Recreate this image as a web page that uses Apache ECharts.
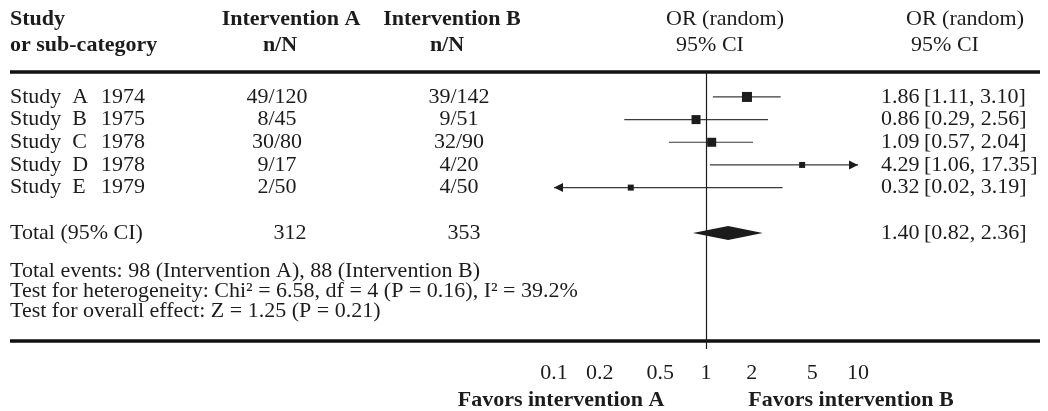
<!DOCTYPE html>
<html><head><meta charset="utf-8">
<script src="https://cdn.jsdelivr.net/npm/echarts@6/dist/echarts.min.js"></script>
<style>html,body{margin:0;padding:0;background:#fff}#c{width:1048px;height:411px}</style>
</head><body><div id="c"></div>
<script>
// ---- data ----
const studies = ['Study  A', 'Study  B', 'Study  C', 'Study  D', 'Study  E'];
const years = ['1974', '1975', '1978', '1978', '1979'];
const groupA = ['49/120', '8/45', '30/80', '9/17', '2/50'];
const groupB = ['39/142', '9/51', '32/90', '4/20', '4/50'];
const orValues = [1.86, 0.86, 1.09, 4.29, 0.32];
const ciLower = [1.11, 0.29, 0.57, 1.06, 0.02];
const ciUpper = [3.10, 2.56, 2.04, 17.35, 3.19];
const totalLabel = 'Total (95% CI)';
const totalA = '312';
const totalB = '353';
const totalOR = 1.40;
const totalLower = 0.82;
const totalUpper = 2.36;
const footerLines = [
  'Total events: 98 (Intervention A), 88 (Intervention B)',
  'Test for heterogeneity: Chi\u00b2 = 6.58, df = 4 (P = 0.16), I\u00b2 = 39.2%',
  'Test for overall effect: Z = 1.25 (P = 0.21)'
];
const tickValues = [0.1, 0.2, 0.5, 1, 2, 5, 10];
const tickLabels = ['0.1', '0.2', '0.5', '1', '2', '5', '10'];
const favorLabels = ['Favors intervention A', 'Favors intervention B'];

// ---- style ----
const ink = '#1c1c1c';
const FONT = '"Liberation Serif", "Times New Roman", serif';
const FS = 22;
const markerSize = [10, 9, 9, 6, 6];
const X_MIN = 0.1, X_MAX = 10;
const totalRow = studies.length + 1;

const chart = echarts.init(document.getElementById('c'), null, {renderer: 'canvas'});

const studyData = orValues.map((v, i) => [v, ciLower[i], ciUpper[i], i]);

function renderStudy(params, api) {
  const est = api.value(0), lo = api.value(1), hi = api.value(2), row = api.value(3);
  const loC = Math.max(lo, X_MIN), hiC = Math.min(hi, X_MAX);
  const p0 = api.coord([loC, row]);
  const p1 = api.coord([hiC, row]);
  const pc = api.coord([est, row]);
  const s = markerSize[params.dataIndex] || 7;
  const y = pc[1];
  const children = [
    {type: 'line', shape: {x1: p0[0], y1: y, x2: p1[0], y2: y}, style: {stroke: '#3a3a3a', lineWidth: 1.2}},
    {type: 'rect', shape: {x: pc[0] - s / 2, y: y - s / 2, width: s, height: s}, style: {fill: ink}}
  ];
  if (lo < X_MIN) {
    children.push({type: 'polygon', shape: {points: [[p0[0], y], [p0[0] + 9, y - 4.5], [p0[0] + 9, y + 4.5]]}, style: {fill: ink}});
  }
  if (hi > X_MAX) {
    children.push({type: 'polygon', shape: {points: [[p1[0], y], [p1[0] - 9, y - 4.5], [p1[0] - 9, y + 4.5]]}, style: {fill: ink}});
  }
  return {type: 'group', children};
}

function renderDiamond(params, api) {
  const est = api.value(0), lo = api.value(1), hi = api.value(2), row = api.value(3);
  const pl = api.coord([lo, row]);
  const pc = api.coord([est, row]);
  const ph = api.coord([hi, row]);
  const h = 7;
  return {type: 'polygon', shape: {points: [[pl[0], pl[1]], [pc[0], pc[1] - h], [ph[0], ph[1]], [pc[0], pc[1] + h]]}, style: {fill: ink}};
}

const option = {
  animation: false,
  backgroundColor: '#fff',
  grid: {left: 554, right: 190, top: 72, height: 277},
  xAxis: {
    type: 'log', logBase: 10, min: X_MIN, max: X_MAX,
    axisLine: {show: false}, axisTick: {show: false}, splitLine: {show: false},
    axisLabel: {
      customValues: tickValues,
      margin: 13,
      color: ink, fontFamily: FONT, fontSize: FS,
      formatter: function (v) {
        let best = 0, bd = Infinity;
        tickValues.forEach((t, i) => { const d = Math.abs(Math.log(t) - Math.log(v)); if (d < bd) { bd = d; best = i; } });
        return tickLabels[best];
      }
    }
  },
  yAxis: {type: 'value', inverse: true, min: -1.1, max: 11.12, show: false},
  series: [
    {
      type: 'custom', name: 'studies', renderItem: renderStudy,
      encode: {x: [0, 1, 2], y: 3}, data: studyData, silent: true, clip: false,
      markLine: {
        symbol: 'none', silent: true, label: {show: false},
        lineStyle: {color: ink, width: 1.2, type: 'solid'},
        data: [{xAxis: 1}]
      }
    },
    {
      type: 'custom', name: 'total', renderItem: renderDiamond,
      encode: {x: [0, 1, 2], y: 3}, data: [[totalOR, totalLower, totalUpper, totalRow]], silent: true, clip: false
    }
  ]
};
chart.setOption(option);

function rowY(i) {
  const v = chart.convertToPixel({yAxisIndex: 0}, i);
  return (typeof v === 'number' && isFinite(v)) ? v : 72 + (i + 1.1) * 22.667;
}
function txt(x, y, s, o) {
  o = o || {};
  const align = o.align || 'left';
  return {
    type: 'text', x: x, y: y, silent: true,
    style: {
      text: s, fill: ink,
      font: (o.bold ? 'bold ' : '') + (o.size || FS) + 'px ' + FONT,
      align: align, textAlign: align, verticalAlign: 'middle', textVerticalAlign: 'middle'
    }
  };
}
function rule(y) {
  return {type: 'line', silent: true, shape: {x1: 10, y1: y, x2: 1040, y2: y}, style: {stroke: '#111', lineWidth: 3.5}};
}

const g = [];
// header
g.push(txt(10, 19, 'Study', {bold: true}));
g.push(txt(10, 45, 'or sub-category', {bold: true}));
g.push(txt(291, 19, 'Intervention A', {bold: true, align: 'center'}));
g.push(txt(280, 45, 'n/N', {bold: true, align: 'center'}));
g.push(txt(452, 19, 'Intervention B', {bold: true, align: 'center'}));
g.push(txt(447, 45, 'n/N', {bold: true, align: 'center'}));
g.push(txt(725, 19, 'OR (random)', {align: 'center'}));
g.push(txt(710, 45, '95% CI', {align: 'center'}));
g.push(txt(965, 19, 'OR (random)', {align: 'center'}));
g.push(txt(945, 45, '95% CI', {align: 'center'}));
g.push(rule(72));
// rows
studies.forEach((s, i) => {
  const y = rowY(i);
  g.push(txt(10, y, s));
  g.push(txt(101, y, years[i]));
  g.push(txt(277, y, groupA[i], {align: 'center'}));
  g.push(txt(459, y, groupB[i], {align: 'center'}));
  g.push(txt(881, y, orValues[i].toFixed(2)));
  g.push(txt(924, y, '[' + ciLower[i].toFixed(2) + ', ' + ciUpper[i].toFixed(2) + ']'));
});
const ty = rowY(totalRow);
g.push(txt(10, ty, totalLabel));
g.push(txt(290, ty, totalA, {align: 'center'}));
g.push(txt(464, ty, totalB, {align: 'center'}));
g.push(txt(881, ty, totalOR.toFixed(2)));
g.push(txt(924, ty, '[' + totalLower.toFixed(2) + ', ' + totalUpper.toFixed(2) + ']'));
// footer
footerLines.forEach((s, i) => g.push(txt(10, 271 + i * 20, s)));
g.push(rule(341));
// favors
g.push(txt(561, 400, favorLabels[0], {bold: true, align: 'center'}));
g.push(txt(851, 400, favorLabels[1], {bold: true, align: 'center'}));

chart.setOption({graphic: {elements: g}});
</script>
</body></html>
